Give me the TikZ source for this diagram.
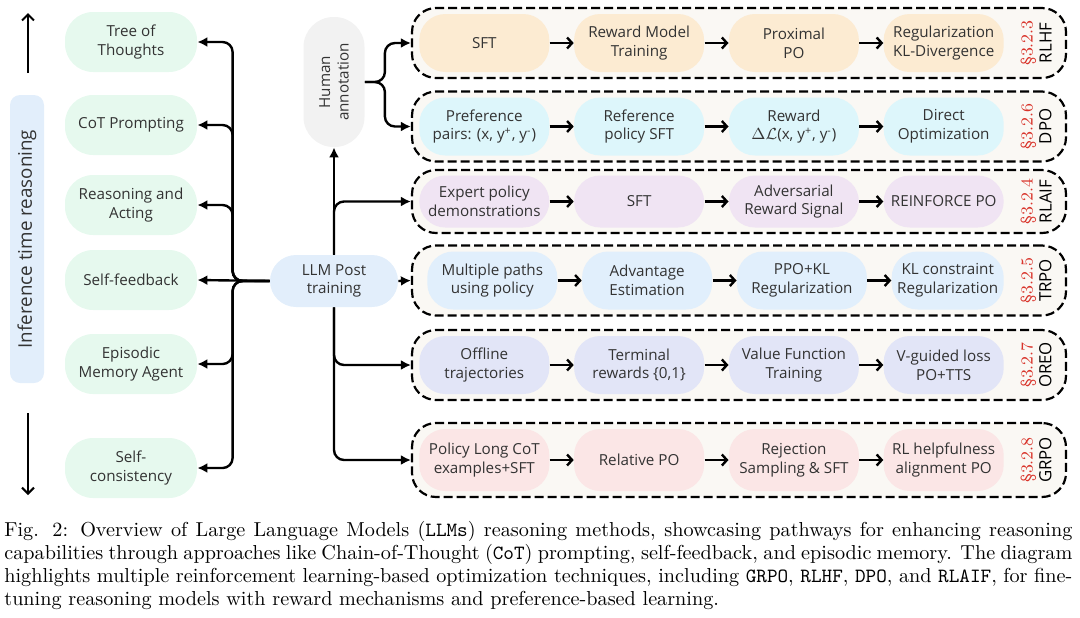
\documentclass[tikz,border=0pt]{standalone}
\usepackage{fontspec}
\newfontfamily\diagfont{Open Sans}
\usetikzlibrary{arrows.meta,calc,positioning}
\newcommand{\boxfont}{\diagfont\fontsize{7.6}{9.3}\selectfont}
\definecolor{greenbg}{HTML}{E6F9EE}
\definecolor{bluebg}{HTML}{E2EEFB}
\definecolor{graybg}{HTML}{F2F2F2}
\definecolor{grpbg}{HTML}{FAF8F4}
\definecolor{rlhfbg}{HTML}{FCEBD2}
\definecolor{dpobg}{HTML}{DDF6FB}
\definecolor{rlaifbg}{HTML}{F0E4F3}
\definecolor{trpobg}{HTML}{E1EFFC}
\definecolor{oreobg}{HTML}{E2E5F7}
\definecolor{grpobg}{HTML}{FBE6E6}
\definecolor{secred}{HTML}{D9342B}
\definecolor{txtgray}{HTML}{333333}
\tikzset{
    pnode/.style={rounded corners=13pt,minimum width=65pt,minimum height=29pt,
      align=center,inner sep=1pt,font=\boxfont,text=txtgray},
    leftnode/.style={pnode,fill=greenbg,minimum width=66pt,minimum height=30pt,rounded corners=14pt},
    grpbox/.style={draw=black,line width=1.1pt,dash pattern=on 4.5pt off 2pt,
      rounded corners=12pt,fill=grpbg,minimum width=327pt,minimum height=35pt},
    seclabel/.style={rotate=90,align=center,inner sep=0pt,
      font=\diagfont\fontsize{8.4}{9.4}\selectfont},
    conn/.style={line width=1.2pt,rounded corners=5pt,-{Latex[length=5pt,width=5pt]}},
    flow/.style={line width=1.2pt,-{Straight Barb[length=2.5pt,width=5.5pt]}},
    timeaxis/.style={line width=1pt,-{Straight Barb[length=3pt,width=6pt]}}
}

\begin{document}
\begin{tikzpicture}[x=0.5pt,y=-0.5pt]
  \useasboundingbox (0,0) rectangle (1080,617);

  % 推理时间轴
  \node[fill=bluebg,rounded corners=5pt,rotate=90,minimum width=144pt,minimum height=17pt,
    font=\diagfont\fontsize{9.4}{11}\selectfont,text=txtgray] (itr) at (27,239) {Inference time reasoning};
  \coordinate (upA) at (28,73);
  \coordinate (upB) at (28,13);
  \coordinate (dnA) at (28,413);
  \coordinate (dnB) at (28,495);
  \draw[timeaxis] (upA) -- (upB);
  \draw[timeaxis] (dnA) -- (dnB);

  % 左侧方法
  \node[leftnode] (tot) at (131,42) {Tree of\\Thoughts};
  \node[leftnode] (cot) at (131,125) {CoT Prompting};
  \node[leftnode] (react) at (131,205) {Reasoning and\\Acting};
  \node[leftnode] (sfb) at (131,280) {Self-feedback};
  \node[leftnode] (ema) at (131,364) {Episodic\\Memory Agent};
  \node[leftnode] (scons) at (131,468) {Self-\\consistency};

  % 中心节点
  \node[pnode,fill=bluebg,minimum width=64pt,minimum height=26pt] (llm) at (334,281) {LLM Post\\training};
  \node[pnode,fill=graybg,rotate=90,minimum width=65pt,minimum height=30.5pt,
    rounded corners=15pt] (human) at (334,82) {Human\\annotation};

  % 分组框
  \node[grpbox] (rlhf) at (739,43) {};
  \node[grpbox] (dpo) at (739,126.5) {};
  \node[grpbox,minimum height=31.5pt] (rlaif) at (739,201.5) {};
  \node[grpbox] (trpo) at (739,280.5) {};
  \node[grpbox] (oreo) at (739,365) {};
  \node[grpbox,minimum height=37pt] (grpo) at (739,460) {};

  % RLHF
  \node[pnode,fill=rlhfbg,right=4pt of rlhf.west] (rlhf1) {SFT};
  \node[pnode,fill=rlhfbg,right=12pt of rlhf1] (rlhf2) {Reward Model\\Training};
  \node[pnode,fill=rlhfbg,right=12pt of rlhf2] (rlhf3) {Proximal\\PO};
  \node[pnode,fill=rlhfbg,minimum width=60pt,right=12pt of rlhf3] (rlhf4) {Regularization\\KL-Divergence};

  % DPO
  \node[pnode,fill=dpobg,right=4pt of dpo.west] (dpo1) {Preference\\pairs: (x, y\textsuperscript{+}, y\textsuperscript{-})};
  \node[pnode,fill=dpobg,right=12pt of dpo1] (dpo2) {Reference\\policy SFT};
  \node[pnode,fill=dpobg,right=12pt of dpo2] (dpo3) {Reward\\$\Delta\mathcal{L}$(x, y\textsuperscript{+}, y\textsuperscript{-})};
  \node[pnode,fill=dpobg,minimum width=60pt,right=12pt of dpo3] (dpo4) {Direct\\Optimization};

  % RLAIF
  \node[pnode,fill=rlaifbg,minimum height=26pt,right=4pt of rlaif.west] (rlaif1) {Expert policy\\demonstrations};
  \node[pnode,fill=rlaifbg,minimum height=26pt,right=12pt of rlaif1] (rlaif2) {SFT};
  \node[pnode,fill=rlaifbg,minimum height=26pt,right=12pt of rlaif2] (rlaif3) {Adversarial\\Reward Signal};
  \node[pnode,fill=rlaifbg,minimum height=26pt,minimum width=60pt,right=12pt of rlaif3] (rlaif4) {REINFORCE PO};

  % TRPO
  \node[pnode,fill=trpobg,right=8pt of trpo.west] (trpo1) {Multiple paths\\using policy};
  \node[pnode,fill=trpobg,right=12pt of trpo1] (trpo2) {Advantage\\Estimation};
  \node[pnode,fill=trpobg,right=12pt of trpo2] (trpo3) {PPO+KL\\Regularization};
  \node[pnode,fill=trpobg,minimum width=56pt,right=12pt of trpo3] (trpo4) {KL constraint\\Regularization};

  % OREO
  \node[pnode,fill=oreobg,right=4pt of oreo.west] (oreo1) {Offline\\trajectories};
  \node[pnode,fill=oreobg,right=12pt of oreo1] (oreo2) {Terminal\\rewards \{0,1\}};
  \node[pnode,fill=oreobg,right=12pt of oreo2] (oreo3) {Value Function\\Training};
  \node[pnode,fill=oreobg,minimum width=60pt,right=12pt of oreo3] (oreo4) {V-guided loss\\PO+TTS};

  % GRPO
  \node[pnode,fill=grpobg,minimum height=31pt,right=4pt of grpo.west] (grpo1) {Policy Long CoT\\examples+SFT};
  \node[pnode,fill=grpobg,minimum height=31pt,right=12pt of grpo1] (grpo2) {Relative PO};
  \node[pnode,fill=grpobg,minimum height=31pt,right=12pt of grpo2] (grpo3) {Rejection\\Sampling \& SFT};
  \node[pnode,fill=grpobg,minimum height=31pt,minimum width=60pt,right=12pt of grpo3] (grpo4) {RL helpfulness\\alignment PO};

  % 章节编号
  \node[seclabel] (rlhfsec) at ($(rlhf.east)+(-31,0)$) {\textcolor{secred}{\rmfamily\S3.2.3}\\RLHF};
  \node[seclabel] (dposec) at ($(dpo.east)+(-31,0)$) {\textcolor{secred}{\rmfamily\S3.2.6}\\DPO};
  \node[seclabel] (rlaifsec) at ($(rlaif.east)+(-31,0)$) {\textcolor{secred}{\rmfamily\S3.2.4}\\RLAIF};
  \node[seclabel] (trposec) at ($(trpo.east)+(-31,0)$) {\textcolor{secred}{\rmfamily\S3.2.5}\\TRPO};
  \node[seclabel] (oreosec) at ($(oreo.east)+(-31,0)$) {\textcolor{secred}{\rmfamily\S3.2.7}\\OREO};
  \node[seclabel] (grposec) at ($(grpo.east)+(-31,0)$) {\textcolor{secred}{\rmfamily\S3.2.8}\\GRPO};

  % 行内箭头
  \foreach \r in {rlhf,dpo,rlaif,trpo,oreo,grpo}{
    \foreach \i/\j in {1/2,2/3,3/4}{
      \draw[flow] (\r\i) -- (\r\j);
    }
  }

  % 左侧分支
  \foreach \b in {tot,cot,react,ema,scons}{
    \draw[conn] (llm.west) -- ++(-37,0) |- (\b.east);
  }
  \draw[conn] (llm.west) -- (sfb.east);

  % 右侧分支
  \draw[conn] (llm.north) -- (human.west);
  \draw[conn] (human.south) -- ++(20,0) |- (rlhf.west);
  \draw[conn] (human.south) -- ++(20,0) |- (dpo.west);
  \draw[conn] (llm.north) |- (rlaif.west);
  \draw[conn] (llm.east) -- (trpo.west);
  \draw[conn] (llm.south) |- (oreo.west);
  \draw[conn] (llm.south) |- (grpo.west);

  % 图题
  \node[anchor=north west,inner sep=0pt,text width=534pt,align=justify,
    font=\fontsize{10.1}{11.5}\selectfont] (caption) at (4,521)
    {\hyphenpenalty=10000\relax Fig. 2: Overview of Large Language Models (\texttt{LLMs}) reasoning methods, showcasing pathways for enhancing reasoning\linebreak capabilities through approaches like Chain-of-Thought (\texttt{CoT}) prompting, self-feedback, and episodic memory. The diagram\linebreak highlights multiple reinforcement learning-based optimization techniques, including \texttt{GRPO}, \texttt{RLHF}, \texttt{DPO}, and \texttt{RLAIF}, for fine-\linebreak tuning reasoning models with reward mechanisms and preference-based learning.};
\end{tikzpicture}
\end{document}
